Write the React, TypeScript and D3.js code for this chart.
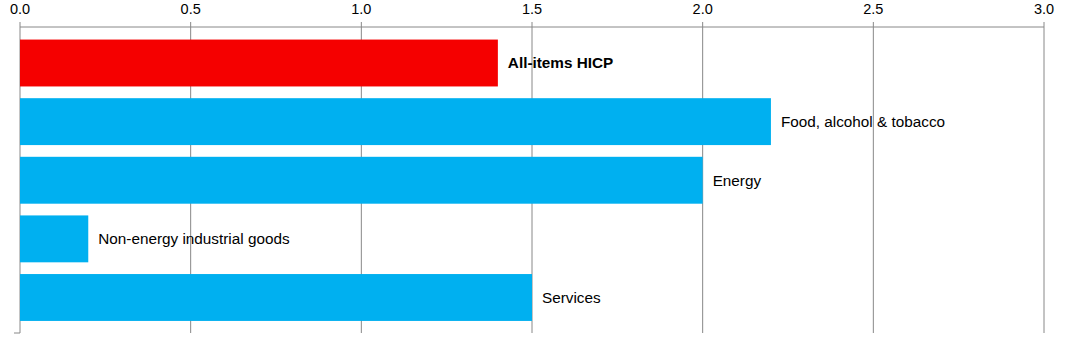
import React from "react";
import * as d3 from "d3";

const categories = ["All-items HICP", "Food, alcohol & tobacco", "Energy", "Non-energy industrial goods", "Services"];
const values = [1.4, 2.2, 2.0, 0.2, 1.5];
const highlight = [true, false, false, false, false];
const ticks = [0, 0.5, 1, 1.5, 2, 2.5, 3];

export default function App() {
  const W = 1068, H = 362;
  const x = d3.scaleLinear().domain([0, 3]).range([20, 1044]);
  const y = d3.scaleBand<string>().domain(categories).range([33.7, 326.8]).paddingInner(0.2).paddingOuter(0.1);
  const top = 27, bottom = 333;
  const font = "'Liberation Sans', Arial, sans-serif";
  return (
    <svg width={W} height={H} style={{ position: "absolute", left: 0, top: 0 }} fontFamily={font}>
      <rect width={W} height={H} fill="#fff" />
      {ticks.map((t) => (
        <g key={t}>
          <line x1={x(t)} x2={x(t)} y1={top - 5} y2={bottom} stroke="#888" strokeWidth={1} />
          <text x={x(t)} y={14} textAnchor="middle" fontSize={14.5} fill="#000">{t.toFixed(1)}</text>
        </g>
      ))}
      <line x1={x(0)} x2={x(3)} y1={top} y2={top} stroke="#888" strokeWidth={1} />
      <line x1={x(0) - 6} x2={x(0)} y1={bottom} y2={bottom} stroke="#888" strokeWidth={1} />
      {categories.map((c, i) => (
        <rect key={c} x={x(0)} y={y(c)} width={x(values[i]) - x(0)} height={y.bandwidth()} fill={highlight[i] ? "#f50000" : "#00b0f0"} />
      ))}
      {categories.map((c, i) => (
        <text key={c} x={x(values[i]) + 10} y={(y(c) as number) + y.bandwidth() / 2} dy="0.35em" fontSize={15.3} fontWeight={highlight[i] ? "bold" : "normal"} fill="#000">{c}</text>
      ))}
    </svg>
  );
}
